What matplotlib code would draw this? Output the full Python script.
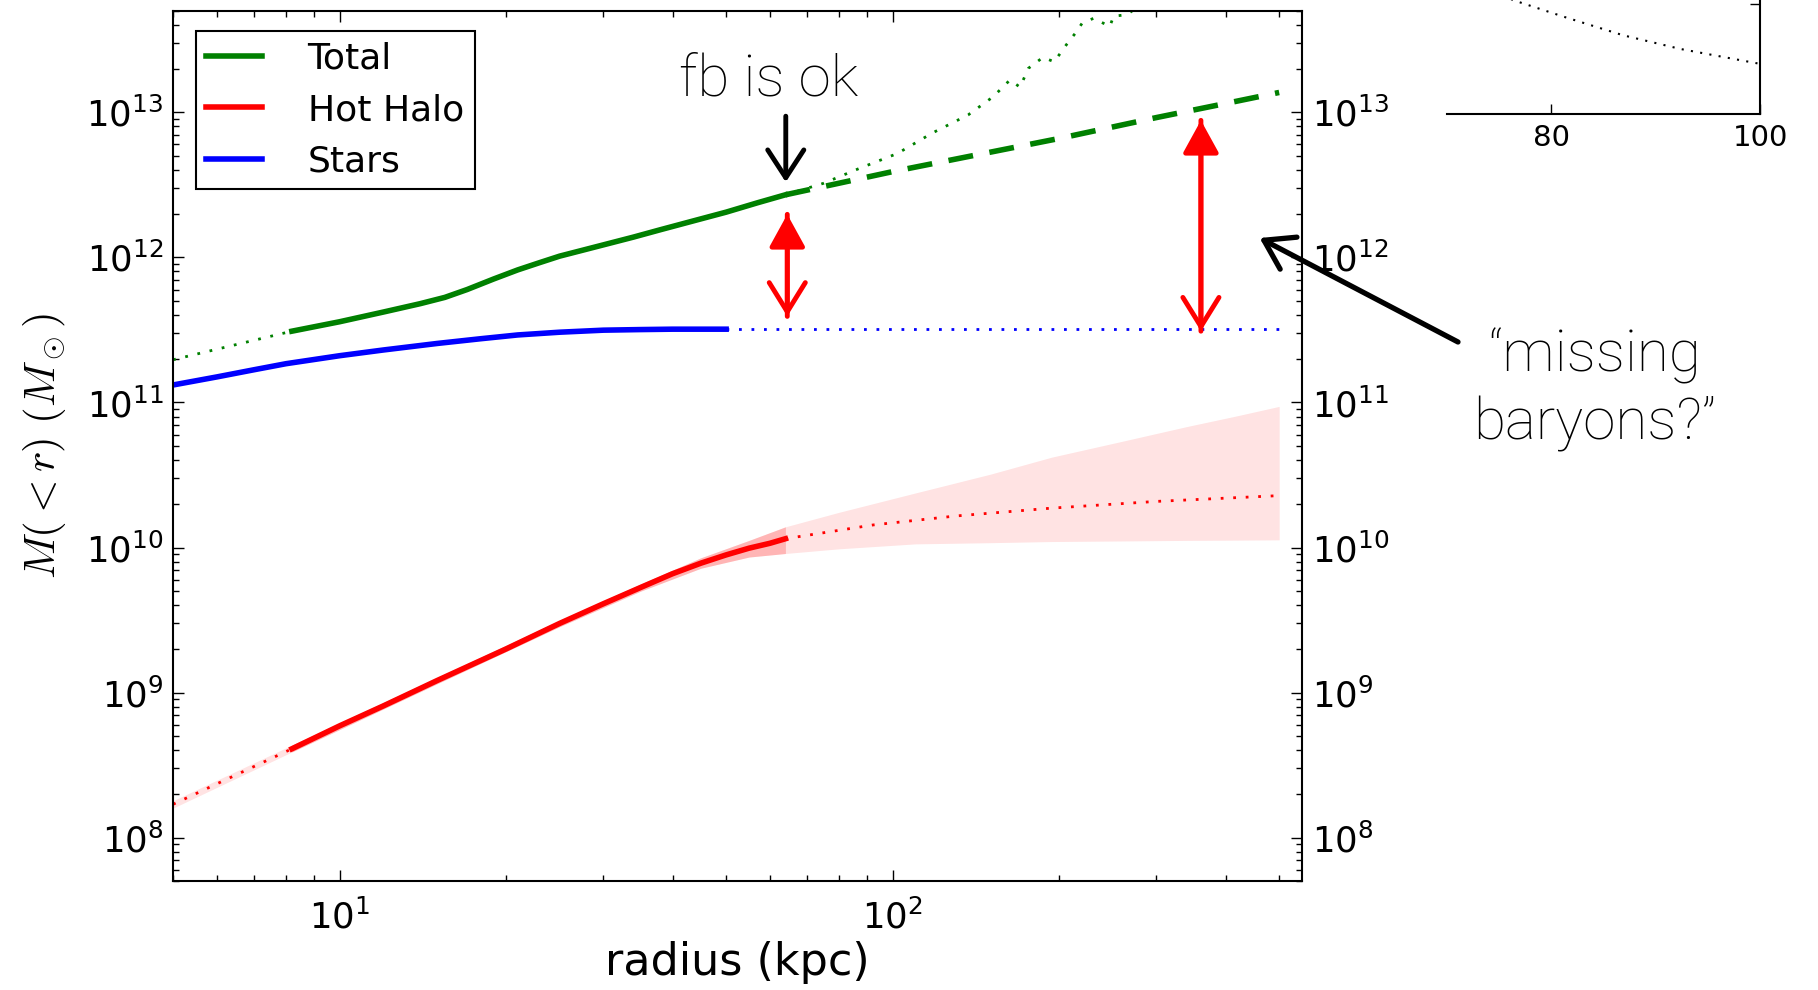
import numpy as np
import matplotlib
matplotlib.use("Agg")
import matplotlib.pyplot as plt
from matplotlib.ticker import NullFormatter

plt.rcParams["font.family"] = ["DejaVu Sans"]

# enclosed mass profiles, radius in kpc, mass in solar masses
r_tot = [8.2, 10, 12, 14, 15.5, 17, 19, 21, 23, 25, 27.5, 30, 34, 38, 44,
         50, 57, 64]
m_tot = [3.1e11, 3.6e11, 4.2e11, 4.8e11, 5.3e11, 6.0e11, 7.1e11, 8.2e11,
         9.2e11, 1.02e12, 1.12e12, 1.22e12, 1.38e12, 1.55e12, 1.8e12, 2.05e12,
         2.38e12, 2.7e12]
r_tot_in = [5, 8.2]
m_tot_in = [1.97e11, 3.1e11]
r_tot_out = [64, 75, 87, 102, 118, 137, 152, 163, 170, 176, 187, 196,
             206, 215, 220, 231, 247, 251, 265, 290]
m_tot_out = [2.7e12, 3.24e12, 4.1e12, 5.2e12, 7.2e12, 9.6e12, 1.28e13,
             1.67e13, 1.49e13, 2.01e13, 2.39e13, 2.23e13, 2.91e13, 3.59e13,
             4.1e13, 4.45e13, 3.9e13, 4.6e13, 4.7e13, 6.0e13]
r_tot_ext = [64, 100, 200, 300, 400, 500]
m_tot_ext = [2.7e12, 3.9e12, 6.6e12, 9.2e12, 1.15e13, 1.37e13]

r_hot = [8.2, 10, 12, 15, 20, 25, 30, 35, 40, 45, 50, 55, 60, 64]
m_hot = [4.1e8, 5.9e8, 8.1e8, 1.21e9, 2.0e9, 3.0e9, 4.1e9, 5.3e9, 6.6e9,
         7.8e9, 8.9e9, 9.9e9, 1.07e10, 1.15e10]
r_hot_in = [5, 8.2]
m_hot_in = [1.7e8, 4.1e8]
r_hot_out = [64, 92, 130, 194, 300, 500]
m_hot_out = [1.15e10, 1.43e10, 1.65e10, 1.87e10, 2.08e10, 2.28e10]

r_band = [5, 8.2, 15, 25, 35, 45, 55, 64, 80, 110, 150, 194, 260, 339, 420, 500]
band_hi = [1.8e8, 4.35e8, 1.27e9, 3.15e9, 5.6e9, 8.5e9, 1.12e10, 1.39e10,
           1.75e10, 2.38e10, 3.2e10, 4.2e10, 5.4e10, 6.8e10, 8.1e10, 9.4e10]
band_lo = [1.6e8, 3.9e8, 1.15e9, 2.85e9, 5.0e9, 7.2e9, 8.6e9, 9.1e9,
           9.8e9, 1.06e10, 1.08e10, 1.1e10, 1.11e10, 1.12e10, 1.125e10, 1.13e10]

r_st = [5, 6, 7, 8, 10, 12, 15, 18, 21, 25, 30, 35, 40, 50]
m_st = [1.32e11, 1.5e11, 1.68e11, 1.85e11, 2.1e11, 2.3e11, 2.55e11, 2.75e11,
        2.92e11, 3.05e11, 3.15e11, 3.18e11, 3.2e11, 3.2e11]
r_st_out = [50, 500]
m_st_out = [3.2e11, 3.2e11]

# gaps between total mass and stellar mass
gap_r = [64.5, 361]
gap_top = [1.98e12, 8.8e12]
gap_bot = [3.92e11, 3.1e11]

# piece of the neighbouring panel
inset_x = [74, 76.3, 81.3, 86.9, 92.4, 100]
inset_y = [1.12, 1.0, 0.85, 0.69, 0.57, 0.44]

fig = plt.figure(figsize=(18.18, 9.9), dpi=100)
ax = fig.add_axes([0.0952, 0.1097, 0.6210, 0.8793])

dot = (0, (1, 3.5))
r_band = np.array(r_band)
inner = (r_band >= 8.2) & (r_band <= 64)
ax.fill_between(r_band, band_lo, band_hi, color="red", alpha=0.11, lw=0)
ax.fill_between(r_band[inner], np.array(band_lo)[inner], np.array(band_hi)[inner],
                color="red", alpha=0.2, lw=0)

ax.plot(r_tot_in, m_tot_in, color="green", lw=2, ls=dot)
ax.plot(r_tot_out, m_tot_out, color="green", lw=2, ls=dot)
ax.plot(r_tot_ext, m_tot_ext, color="green", lw=4, ls=(0, (4.5, 3)))
ax.plot(r_hot_in, m_hot_in, color="red", lw=2, ls=dot)
ax.plot(r_hot_out, m_hot_out, color="red", lw=2, ls=dot)
ax.plot(r_st_out, m_st_out, color="blue", lw=2, ls=dot)
ax.plot(r_tot, m_tot, color="green", lw=4, label="Total")
ax.plot(r_hot, m_hot, color="red", lw=4, label="Hot Halo")
ax.plot(r_st, m_st, color="blue", lw=4, label="Stars")

ax.set_xscale("log")
ax.set_yscale("log")
ax.set_xlim(5, 550)
ax.set_ylim(5e7, 5e13)
ax.xaxis.set_minor_formatter(NullFormatter())
ax.yaxis.set_minor_formatter(NullFormatter())
ax.tick_params(which="both", direction="in", top=True, right=True,
               labelright=True, labelsize=25.5, width=1)
ax.tick_params(which="major", length=8)
ax.tick_params(which="minor", length=4.5)
ax.tick_params(axis="x", pad=13)
ax.tick_params(axis="y", pad=7)
for s in ax.spines.values():
    s.set_linewidth(1.5)

ax.set_xlabel("radius (kpc)", fontsize=32)
ax.xaxis.set_label_coords(0.5, -0.068)
ax.set_ylabel(r"$M(<r)\ (M_\odot)$", fontsize=31, math_fontfamily="cm")
ax.yaxis.set_label_coords(-0.093, 0.5)

leg = ax.legend(loc="upper left", bbox_to_anchor=(0.02, 0.977), fontsize=26,
                handlelength=1.55, handletextpad=1.25, labelspacing=0.48,
                borderpad=0.3, borderaxespad=0, fancybox=False, framealpha=1)
leg.get_frame().set_edgecolor("black")
leg.get_frame().set_linewidth(1.5)

# red double arrows: filled head on top, open head below
for x, top, bot in zip(gap_r, gap_top, gap_bot):
    ax.annotate("", xy=(x, top), xytext=(x, bot),
                arrowprops=dict(arrowstyle="-|>,head_length=1.0,head_width=0.55",
                                color="red", lw=3.5, shrinkA=0, shrinkB=0,
                                mutation_scale=20))
    ax.annotate("", xy=(x, bot), xytext=(x, top),
                arrowprops=dict(arrowstyle="->,head_length=1.05,head_width=0.65",
                                color="red", lw=3.5, shrinkA=0, shrinkB=0,
                                mutation_scale=20))

note_font = dict(family=["Roboto", "DejaVu Sans"], weight="light", fontsize=42)
fig.text(769 / 1818, 1 - 80 / 990, "fb is ok", ha="center", va="center", **note_font)
ax.annotate("", xy=(64.1, 3.3e12), xytext=(64.1, 9.4e12),
            arrowprops=dict(arrowstyle="->,head_length=1.0,head_width=0.65",
                            color="black", lw=3.5, shrinkA=0, shrinkB=0,
                            mutation_scale=20))

fig.text(1595 / 1818, 1 - 390 / 990, "\u201cmissing\nbaryons?\u201d", ha="center",
         va="center", linespacing=1.28, **note_font)
ax.annotate("", xy=(461, 1.36e12), xytext=(1458 / 1818, 1 - 342 / 990),
            textcoords="figure fraction", annotation_clip=False,
            arrowprops=dict(arrowstyle="->,head_length=1.0,head_width=0.65",
                            color="black", lw=3.8, shrinkA=0, shrinkB=0,
                            mutation_scale=20))

# corner of the next panel
ins = fig.add_axes([1447 / 1818, 1 - 114 / 990, 313 / 1818, 114 / 990])
ins.plot(inset_x, inset_y, color="black", lw=1.5, ls=(0, (1, 3.5)))
ins.set_xlim(70, 100)
ins.set_ylim(0, 1)
ins.spines["left"].set_visible(False)
ins.spines["top"].set_visible(False)
for s in ("bottom", "right"):
    ins.spines[s].set_linewidth(1.5)
ins.set_xticks([80, 100])
ins.set_xticklabels(["80", "100"])
ins.set_yticks([0.965])
ins.yaxis.tick_right()
ins.tick_params(axis="y", labelright=False)
ins.tick_params(direction="in", length=7, width=1, labelsize=21, pad=7)

fig.savefig("out.png", dpi=100, facecolor="white")
